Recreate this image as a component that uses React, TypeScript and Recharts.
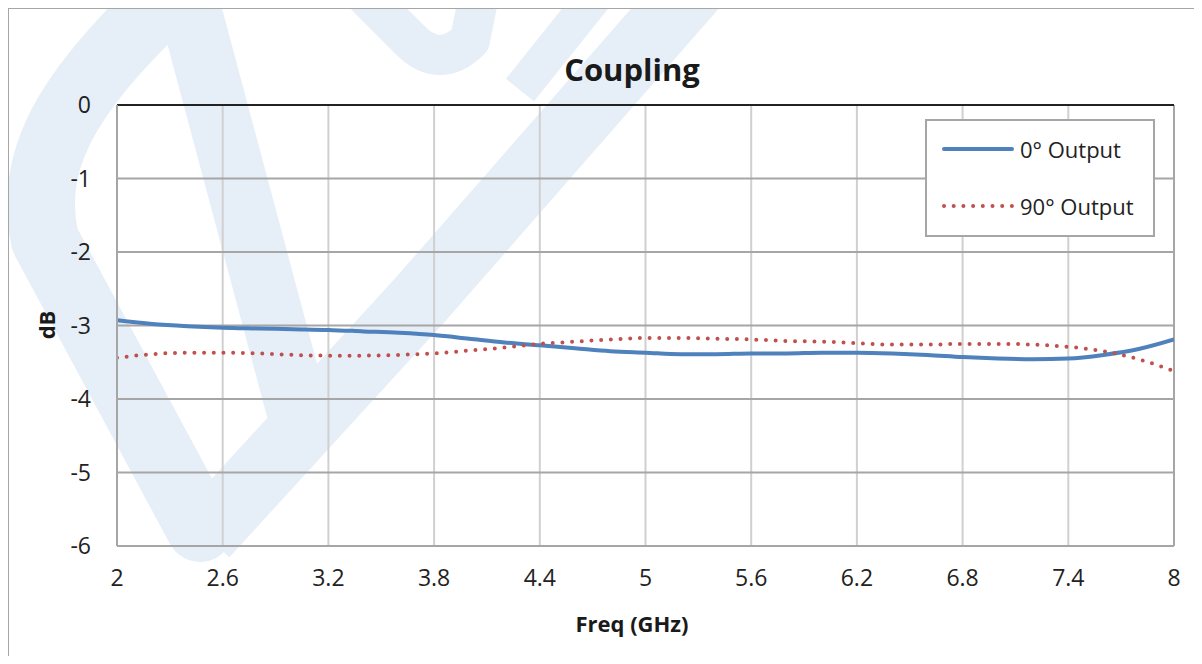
import {
  CartesianGrid,
  Line,
  LineChart,
  ReferenceLine,
  XAxis,
  YAxis,
} from "recharts";

// Coupling vs frequency (dB)
const freqGHz = [
  2.0, 2.2, 2.4, 2.6, 2.8, 3.0, 3.2, 3.4, 3.6, 3.8, 4.0, 4.2, 4.4, 4.6, 4.8,
  5.0, 5.2, 5.4, 5.6, 5.8, 6.0, 6.2, 6.4, 6.6, 6.8, 7.0, 7.2, 7.4, 7.6, 7.8, 8.0,
];
const out0 = [
  -2.93, -2.98, -3.01, -3.03, -3.04, -3.05, -3.06, -3.08, -3.1, -3.13, -3.18,
  -3.23, -3.27, -3.31, -3.35, -3.37, -3.39, -3.39, -3.38, -3.38, -3.37, -3.37,
  -3.38, -3.4, -3.43, -3.45, -3.46, -3.45, -3.4, -3.32, -3.19,
];
const out90 = [
  -3.44, -3.39, -3.37, -3.37, -3.38, -3.4, -3.41, -3.41, -3.4, -3.38, -3.34,
  -3.3, -3.25, -3.22, -3.19, -3.17, -3.17, -3.18, -3.19, -3.21, -3.22, -3.24,
  -3.26, -3.26, -3.25, -3.25, -3.26, -3.29, -3.35, -3.46, -3.62,
];
const xTicks = [2, 2.6, 3.2, 3.8, 4.4, 5, 5.6, 6.2, 6.8, 7.4, 8];
const yTicks = [0, -1, -2, -3, -4, -5, -6];
const seriesNames = ["0° Output", "90° Output"];

const data = freqGHz.map((f, i) => ({ f, a: out0[i], b: out90[i] }));

const FONT = "'Open Sans', 'Noto Sans', sans-serif";
const BLUE = "#4f81bd";
const RED = "#c0504d";
const WM = "#e6eef7";

function LegendBox() {
  return (
    <div
      style={{
        position: "absolute",
        left: 925,
        top: 119,
        width: 226,
        height: 114,
        border: "2px solid #a6a6a6",
        background: "#fff",
        fontFamily: FONT,
        fontSize: 22,
        color: "#222",
      }}
    >
      {seriesNames.map((name, i) => (
        <div
          key={name}
          style={{
            position: "absolute",
            left: 15,
            top: 12 + i * 57,
            display: "flex",
            alignItems: "center",
            height: 32,
          }}
        >
          <svg width={72} height={10} style={{ marginRight: 6 }}>
            <line
              x1={2}
              x2={70}
              y1={5}
              y2={5}
              stroke={i === 0 ? BLUE : RED}
              strokeWidth={4}
              strokeLinecap="round"
              strokeDasharray={i === 0 ? undefined : "0 9.7"}
            />
          </svg>
          <span>{name}</span>
        </div>
      ))}
    </div>
  );
}

export default function App() {
  return (
    <div
      style={{
        margin: -8,
        width: 1202,
        height: 664,
        position: "relative",
        overflow: "hidden",
        background: "#fff",
      }}
    >
      {/* faint logo watermark behind the chart */}
      <svg
        width={1202}
        height={664}
        style={{ position: "absolute", left: 0, top: 0 }}
      >
        <g fill="none" stroke={WM} strokeLinejoin="round">
          <path
            d="M 180 -15 C 80 80, 25 150, 45 240 L 200 528"
            strokeWidth={68}
            strokeLinecap="round"
          />
          <path d="M 205 535 L 420 300 L 700 -20" strokeWidth={66} />
          <path d="M 185 -10 L 300 420" strokeWidth={62} />
          <path d="M 600 -10 L 520 90" strokeWidth={36} />
          <path
            d="M 360 -10 L 410 40 Q 440 70 470 40 L 480 -10"
            strokeWidth={40}
            strokeLinecap="round"
          />
        </g>
      </svg>

      <div
        style={{
          position: "absolute",
          left: 7,
          top: 7,
          width: 1189,
          height: 700,
          border: "2px solid #a6a6a6",
        }}
      />

      <div
        style={{
          position: "absolute",
          left: 0,
          width: 1264,
          top: 48,
          textAlign: "center",
          fontFamily: FONT,
          fontWeight: 700,
          fontSize: 31,
          color: "#1a1a1a",
        }}
      >
        Coupling
      </div>
      <div
        style={{
          position: "absolute",
          left: 0,
          width: 1264,
          top: 608,
          textAlign: "center",
          fontFamily: FONT,
          fontWeight: 700,
          fontSize: 22,
          color: "#1a1a1a",
        }}
      >
        Freq (GHz)
      </div>
      <div
        style={{
          position: "absolute",
          left: 46,
          top: 325,
          transform: "translate(-50%, -50%) rotate(-90deg)",
          fontFamily: FONT,
          fontWeight: 700,
          fontSize: 22,
          color: "#1a1a1a",
        }}
      >
        dB
      </div>

      <div style={{ position: "absolute", left: 0, top: 0 }}>
        <LineChart
          width={1202}
          height={664}
          data={data}
          margin={{ top: 105, right: 28, left: 0, bottom: 78 }}
        >
          <CartesianGrid
            horizontal={false}
            stroke="#d0d0d0"
            strokeWidth={2}
            verticalValues={xTicks}
          />
          <CartesianGrid
            vertical={false}
            stroke="#a6a6a6"
            strokeWidth={2}
            horizontalValues={yTicks}
          />
          <XAxis
            dataKey="f"
            type="number"
            domain={[2, 8]}
            ticks={xTicks}
            allowDataOverflow
            height={40}
            tickLine={false}
            axisLine={false}
            tickMargin={18}
            tick={{ fontSize: 23, fill: "#222", fontFamily: FONT }}
          />
          <YAxis
            type="number"
            domain={[-6, 0]}
            ticks={yTicks}
            width={117}
            tickLine={false}
            axisLine={{ stroke: "#a6a6a6", strokeWidth: 2 }}
            tickMargin={20}
            tick={{ fontSize: 23, fill: "#222", fontFamily: FONT }}
          />
          <ReferenceLine x={8} stroke="#a6a6a6" strokeWidth={2} />
          <ReferenceLine y={0} stroke="#222" strokeWidth={2} />
          <Line
            dataKey="a"
            type="monotone"
            stroke={BLUE}
            strokeWidth={4}
            dot={false}
            isAnimationActive={false}
          />
          <Line
            dataKey="b"
            type="monotone"
            stroke={RED}
            strokeWidth={4}
            strokeLinecap="round"
            strokeDasharray="0 9.7"
            dot={false}
            isAnimationActive={false}
          />
        </LineChart>
      </div>

      <LegendBox />
    </div>
  );
}
